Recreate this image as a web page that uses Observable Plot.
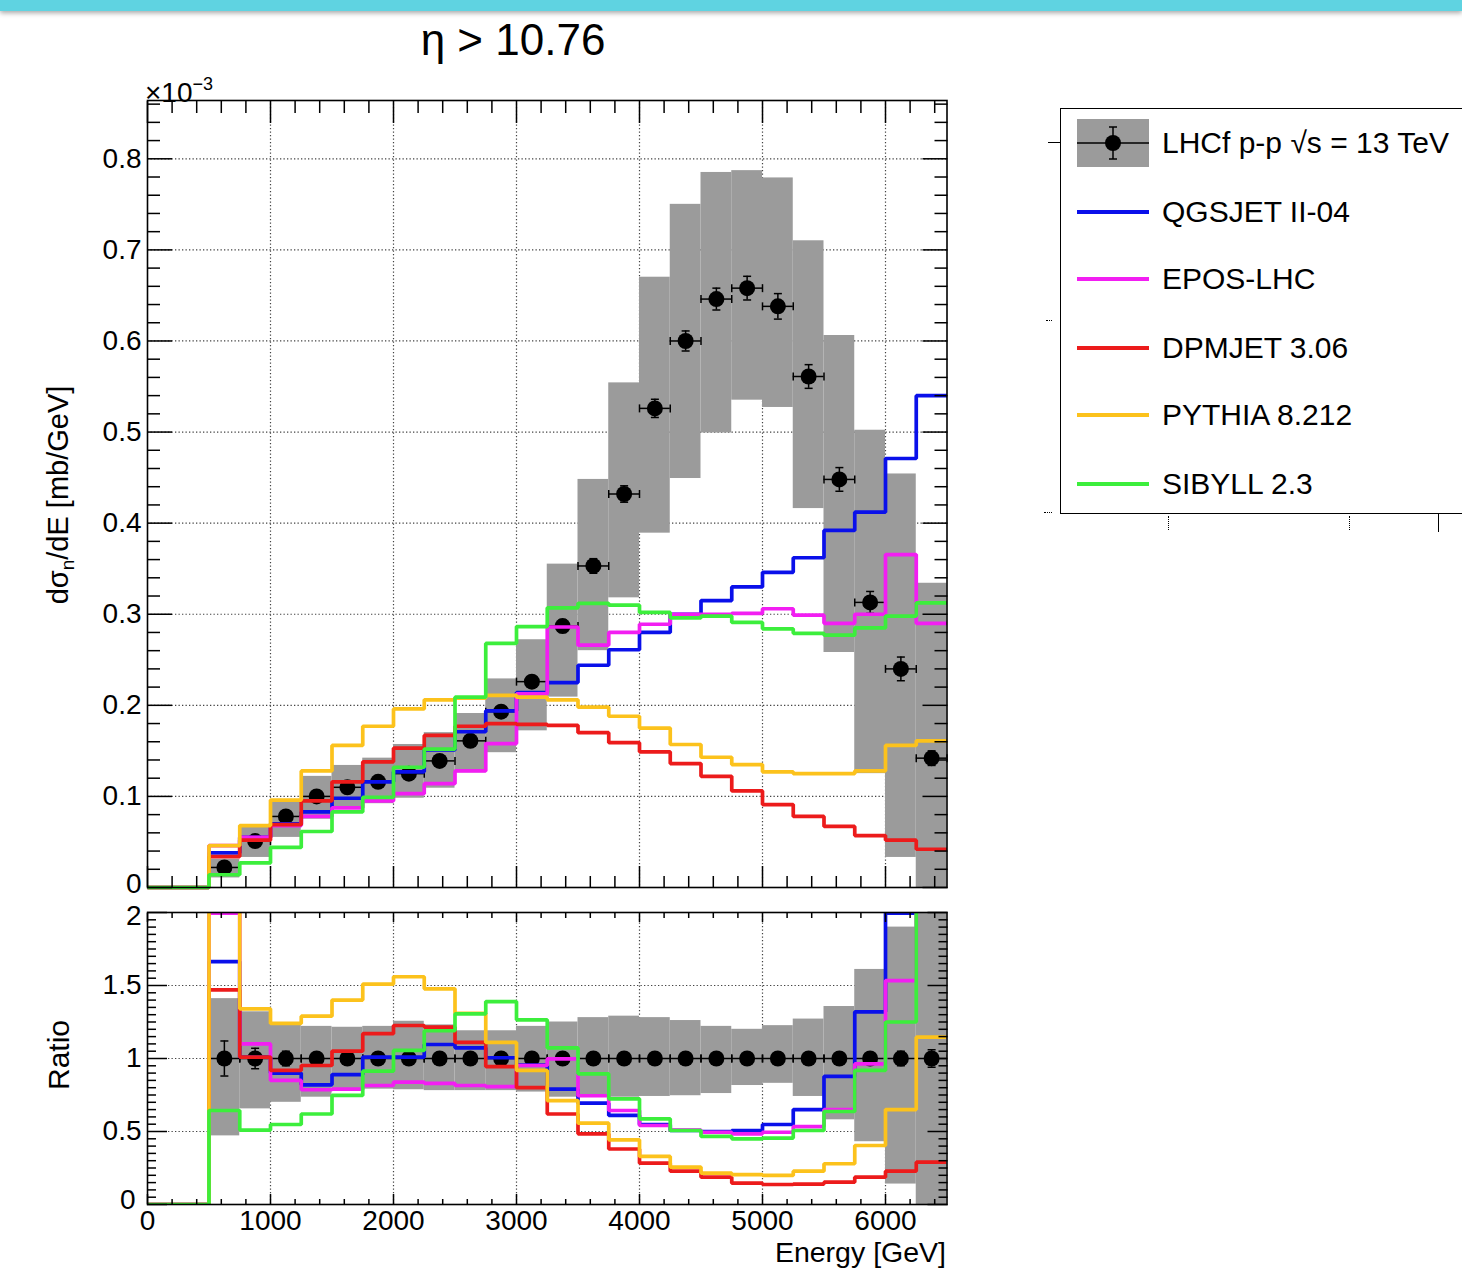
<!DOCTYPE html>
<html>
<head>
<meta charset="utf-8">
<script src="https://cdn.jsdelivr.net/npm/d3@7"></script>
<script src="https://cdn.jsdelivr.net/npm/@observablehq/plot@0.6"></script>
<style>
  html, body { margin: 0; padding: 0; background: #fff; }
  body { width: 1462px; height: 1272px; overflow: hidden; position: relative;
         font-family: "Liberation Sans", Arial, Helvetica, sans-serif; color: #000; }
  #topbar { position: absolute; left: 0; top: 0; width: 1462px; height: 11px; background: #5fd3e1;
            box-shadow: 0 2px 5px rgba(0,0,0,0.35); z-index: 5; }
  .abs { position: absolute; white-space: nowrap; line-height: 1; }
  #title { left: 513px; top: 18px; font-size: 44px; transform: translateX(-50%); }
  #exp { left: 145px; top: 75px; font-size: 28px; }
  #exp sup { font-size: 18px; vertical-align: 12px; }
  #ylab { left: 60px; top: 495px; font-size: 29px; transform: translate(-50%, -50%) rotate(-90deg); }
  #ylab sub { font-size: 19px; vertical-align: -6px; }
  #rlab { left: 59px; top: 1055px; font-size: 30px; transform: translate(-50%, -50%) rotate(-90deg); }
  #xlab { right: 516px; top: 1238px; font-size: 28.5px; }
  #topchart { position: absolute; left: 0; top: 60px; }
  #botchart { position: absolute; left: 0; top: 872px; }
  #legend { position: absolute; left: 1060px; top: 108px; width: 520px; height: 404px;
            border: 1.5px solid #000; background: #fff; }
  .row { position: absolute; left: 0; height: 48px; width: 500px; }
  .row svg { position: absolute; left: 16px; top: 0; }
  .row span { position: absolute; left: 101px; top: 9px; font-size: 30px; line-height: 1; white-space: nowrap; }
  .frag { position: absolute; }
</style>
</head>
<body>
<div id="topbar"></div>
<div id="title" class="abs">η &gt; 10.76</div>
<div id="exp" class="abs">×10<sup>−3</sup></div>
<div id="ylab" class="abs">dσ<sub>n</sub>/dE [mb/GeV]</div>
<div id="rlab" class="abs">Ratio</div>
<div id="xlab" class="abs">Energy [GeV]</div>
<div id="topchart"></div>
<div id="botchart"></div>

<!-- fragments of the neighbouring pad peeking out around the legend -->
<div class="frag" style="left:1048px;top:142px;width:12px;height:0;border-top:1.5px solid #000"></div>
<div class="frag" style="left:1046px;top:320px;width:6px;height:0;border-top:1.5px dotted #000"></div>
<div class="frag" style="left:1044px;top:512px;width:8px;height:0;border-top:1.5px dotted #000"></div>
<div class="frag" style="left:1168px;top:516px;width:0;height:14px;border-left:1.5px dotted #000"></div>
<div class="frag" style="left:1349px;top:516px;width:0;height:14px;border-left:1.5px dotted #000"></div>
<div class="frag" style="left:1438px;top:514px;width:0;height:18px;border-left:1.5px solid #000"></div>

<div id="legend"></div>

<script>
// ---------------- data ----------------
const binEdges = [0,250,500,750,1000,1250,1500,1750,2000,2250,2500,2750,3000,3250,3500,3750,4000,4250,4500,4750,5000,5250,5500,5750,6000,6250,6500];

// LHCf data, dσ/dE in units of 1e-3 mb/GeV (one value per bin, first two bins empty)
const dataValue   = [null,null,0.022,0.051,0.078,0.100,0.110,0.116,0.125,0.139,0.161,0.193,0.226,0.287,0.353,0.432,0.526,0.600,0.646,0.658,0.638,0.561,0.448,0.313,0.240,0.142];
const dataStat    = [null,null,0.003,0.003,0.003,0.003,0.003,0.003,0.003,0.004,0.004,0.005,0.006,0.007,0.008,0.009,0.010,0.011,0.012,0.013,0.014,0.013,0.013,0.012,0.013,0.008];
const dataSysLow  = [null,null,0.0105,0.033,0.055,0.075,0.086,0.092,0.098,0.109,0.126,0.148,0.172,0.209,0.260,0.318,0.389,0.449,0.499,0.535,0.527,0.416,0.258,0.125,0.033,0.0];
const dataSysHigh = [null,null,0.031,0.066,0.095,0.122,0.134,0.142,0.157,0.170,0.191,0.229,0.272,0.355,0.448,0.554,0.670,0.750,0.785,0.787,0.779,0.710,0.606,0.502,0.454,0.334];

// model predictions (same units)
const qgsjet = [0,0,0.038,0.055,0.070,0.083,0.098,0.116,0.127,0.151,0.171,0.194,0.214,0.225,0.244,0.261,0.280,0.300,0.315,0.330,0.346,0.362,0.392,0.412,0.471,0.540];
const epos   = [0,0,0.046,0.055,0.068,0.078,0.0875,0.095,0.103,0.114,0.128,0.158,0.2125,0.286,0.266,0.280,0.289,0.300,0.300,0.301,0.306,0.299,0.290,0.300,0.3655,0.290];
const dpmjet = [0,0,0.034,0.052,0.069,0.095,0.116,0.138,0.153,0.167,0.177,0.180,0.179,0.178,0.170,0.159,0.149,0.136,0.122,0.106,0.091,0.078,0.067,0.057,0.052,0.042];
const pythia = [0,0,0.046,0.068,0.096,0.128,0.156,0.177,0.196,0.206,0.208,0.211,0.209,0.206,0.198,0.188,0.175,0.157,0.143,0.135,0.127,0.125,0.125,0.128,0.156,0.161];
const sibyll = [0,0,0.014,0.027,0.044,0.0615,0.083,0.099,0.132,0.152,0.209,0.268,0.2865,0.307,0.312,0.310,0.302,0.296,0.298,0.291,0.284,0.279,0.277,0.285,0.298,0.3125];

// ratio panel (MC / data)
const ratioData    = [null,null,1,1,1,1,1,1,1,1,1,1,1,1,1,1,1,1,1,1,1,1,1,1,1,1];
const ratioStat    = [null,null,0.12,0.07,0.05,0.04,0.03,0.03,0.03,0.03,0.03,0.03,0.03,0.03,0.03,0.025,0.02,0.02,0.02,0.02,0.02,0.025,0.03,0.04,0.05,0.06];
const ratioSysLow  = [null,null,0.47,0.655,0.70,0.735,0.78,0.79,0.786,0.78,0.78,0.78,0.77,0.735,0.735,0.735,0.74,0.745,0.76,0.815,0.83,0.74,0.58,0.43,0.14,0.0];
const ratioSysHigh = [null,null,1.41,1.32,1.24,1.22,1.214,1.22,1.255,1.23,1.19,1.19,1.22,1.25,1.28,1.29,1.28,1.26,1.22,1.20,1.225,1.27,1.356,1.61,1.90,2.35];
const ratioQgsjet = [0,0,1.664,1.01,0.90,0.82,0.89,1.01,1.01,1.096,1.073,1.005,0.955,0.79,0.694,0.61,0.548,0.507,0.50,0.507,0.548,0.65,0.877,1.32,1.995,2.2];
const ratioEpos   = [0,0,1.995,1.10,0.85,0.786,0.79,0.815,0.838,0.83,0.815,0.808,0.952,0.998,0.745,0.644,0.541,0.51,0.495,0.484,0.495,0.534,0.65,0.963,1.534,2.05];
const ratioDpmjet = [0,0,1.47,1.01,0.918,0.952,1.05,1.17,1.226,1.215,1.11,0.945,0.80,0.62,0.484,0.38,0.283,0.228,0.187,0.146,0.137,0.14,0.153,0.187,0.228,0.29];
const ratioPythia = [0,0,2.05,1.34,1.24,1.29,1.40,1.51,1.56,1.477,1.31,1.11,0.918,0.712,0.557,0.443,0.329,0.256,0.215,0.205,0.199,0.228,0.279,0.404,0.65,1.146];
const ratioSibyll = [0,0,0.644,0.51,0.548,0.62,0.747,0.913,1.055,1.19,1.306,1.39,1.265,1.073,0.895,0.724,0.587,0.507,0.466,0.45,0.455,0.507,0.637,0.918,1.25,2.2];

const modelNames  = ["QGSJET II-04","EPOS-LHC","DPMJET 3.06","PYTHIA 8.212","SIBYLL 2.3"];
const modelColors = ["#0a10ea","#f21ef2","#ec1b1b","#fcc21c","#3cee3c"];
const dataLabel = "LHCf p-p √s = 13 TeV";

// tick values
const xMajor = [0,1000,2000,3000,4000,5000,6000];
const xMinor = d3.range(0, 6500, 200).filter(d => d % 1000 !== 0);
const yMajorTop = [0,0.1,0.2,0.3,0.4,0.5,0.6,0.7,0.8];
const yMinorTop = d3.range(1, 44).map(i => +(i*0.02).toFixed(2)).filter(d => Math.round(d*100) % 10 !== 0);
const yMajorR = [0,0.5,1,1.5,2];
const yMinorR = d3.range(1, 40).map(i => +(i*0.05).toFixed(2)).filter(d => Math.round(d*100) % 50 !== 0);

// ---------------- build tables ----------------
function dataRows(vals, stat, lo, hi) {
  const rows = [];
  vals.forEach((v, i) => {
    if (v == null) return;
    rows.push({x1: binEdges[i], x2: binEdges[i+1], xm: (binEdges[i]+binEdges[i+1])/2,
               v, e: stat[i], lo: lo[i], hi: hi[i]});
  });
  return rows;
}
function stepRows(vals, name) {
  return binEdges.map((e, i) => ({x: e, y: vals[Math.min(i, vals.length-1)], model: name}));
}
const topData = dataRows(dataValue, dataStat, dataSysLow, dataSysHigh);
const botData = dataRows(ratioData, ratioStat, ratioSysLow, ratioSysHigh);
const topModels = [qgsjet, epos, dpmjet, pythia, sibyll];
const botModels = [ratioQgsjet, ratioEpos, ratioDpmjet, ratioPythia, ratioSibyll];

const hCap = {draw(ctx, size){ const r = Math.sqrt(size/Math.PI); ctx.moveTo(-r,0); ctx.lineTo(r,0); }};
const vCap = {draw(ctx, size){ const r = Math.sqrt(size/Math.PI); ctx.moveTo(0,-r); ctx.lineTo(0,r); }};

const FONT = "Liberation Sans, Arial, Helvetica, sans-serif";
const gridStyle = {stroke: "#222", strokeOpacity: 0.85, strokeWidth: 1.2, strokeDasharray: "1.3,2.2"};
const GRAY = "#9b9b9b";

function dataMarks(rows, clip) {
  return [
    Plot.rect(rows, {x1: "x1", x2: "x2", y1: "lo", y2: "hi", fill: GRAY, clip}),
    Plot.ruleY(rows, {y: "v", x1: "x1", x2: "x2", stroke: "#000", strokeWidth: 1.5, clip}),
    Plot.ruleX(rows, {x: "xm", y1: d => d.v - d.e, y2: d => d.v + d.e, stroke: "#000", strokeWidth: 1.5, clip}),
    Plot.dot(rows, {x: "x1", y: "v", symbol: vCap, r: 4, stroke: "#000", strokeWidth: 1.5, clip}),
    Plot.dot(rows, {x: "x2", y: "v", symbol: vCap, r: 4, stroke: "#000", strokeWidth: 1.5, clip}),
    Plot.dot(rows, {x: "xm", y: d => d.v + d.e, symbol: hCap, r: 4, stroke: "#000", strokeWidth: 1.5, clip}),
    Plot.dot(rows, {x: "xm", y: d => d.v - d.e, symbol: hCap, r: 4, stroke: "#000", strokeWidth: 1.5, clip}),
    Plot.dot(rows, {x: "xm", y: "v", r: 8, fill: "#000", stroke: "none", clip})
  ];
}
function modelMarks(models, clip) {
  return models.map((vals, k) =>
    Plot.line(stepRows(vals, modelNames[k]), {x: "x", y: "y", curve: "step-after",
      stroke: modelColors[k], strokeWidth: 3.7, strokeLinejoin: "miter", strokeLinecap: "butt", clip}));
}

// ---------------- top panel ----------------
const topPlot = Plot.plot({
  width: 1000, height: 837,
  marginLeft: 147, marginRight: 53.5, marginTop: 40, marginBottom: 10,
  style: {background: "transparent", fontFamily: FONT, color: "#000", overflow: "visible"},
  x: {domain: [0, 6500], axis: null},
  y: {domain: [0, 0.864], axis: null},
  marks: [
    Plot.gridX(xMajor.filter(d => d > 0), gridStyle),
    Plot.gridY(yMajorTop.filter(d => d > 0), gridStyle),
    ...dataMarks(topData, false),
    ...modelMarks(topModels, false),
    // tick marks (inside the frame)
    Plot.axisX(xMajor, {anchor: "bottom", tickSize: -21, strokeWidth: 1.5, fill: "none", label: null}),
    Plot.axisX(xMinor, {anchor: "bottom", tickSize: -11, strokeWidth: 1.5, fill: "none", label: null}),
    Plot.axisX(xMajor, {anchor: "top", tickSize: -22, strokeWidth: 1.5, fill: "none", label: null}),
    Plot.axisX(xMinor, {anchor: "top", tickSize: -12, strokeWidth: 1.5, fill: "none", label: null}),
    Plot.axisY(yMajorTop, {anchor: "left", tickSize: -25, strokeWidth: 1.5, fill: "none", label: null}),
    Plot.axisY(yMinorTop, {anchor: "left", tickSize: -13, strokeWidth: 1.5, fill: "none", label: null}),
    Plot.axisY(yMajorTop, {anchor: "right", tickSize: -25, strokeWidth: 1.5, fill: "none", label: null}),
    Plot.axisY(yMinorTop, {anchor: "right", tickSize: -13, strokeWidth: 1.5, fill: "none", label: null}),
    // labels
    Plot.axisY(yMajorTop.filter(d => d > 0), {anchor: "left", tickSize: 0, tickPadding: 6, fontSize: 28, label: null,
      tickFormat: d => d.toFixed(1)}),
    Plot.axisY([0], {anchor: "left", tickSize: 0, tickPadding: 6, fontSize: 28, label: null, dy: -3,
      tickFormat: d => "0"}),
    Plot.frame({stroke: "#000", strokeWidth: 1.6})
  ]
});
document.getElementById("topchart").append(topPlot);

// ---------------- ratio panel ----------------
const botPlot = Plot.plot({
  width: 1000, height: 377,
  marginLeft: 147, marginRight: 53.5, marginTop: 40, marginBottom: 45,
  style: {background: "transparent", fontFamily: FONT, color: "#000", overflow: "visible"},
  x: {domain: [0, 6500], axis: null},
  y: {domain: [0, 2], axis: null},
  marks: [
    Plot.gridX(xMajor.filter(d => d > 0), gridStyle),
    Plot.gridY([0.5, 1, 1.5], gridStyle),
    ...dataMarks(botData, true),
    ...modelMarks(botModels, true),
    Plot.axisX(xMajor, {anchor: "bottom", tickSize: -10, strokeWidth: 1.5, fill: "none", label: null}),
    Plot.axisX(xMinor, {anchor: "bottom", tickSize: -5, strokeWidth: 1.5, fill: "none", label: null}),
    Plot.axisX(xMajor, {anchor: "top", tickSize: -9, strokeWidth: 1.5, fill: "none", label: null}),
    Plot.axisX(xMinor, {anchor: "top", tickSize: -5, strokeWidth: 1.5, fill: "none", label: null}),
    Plot.axisY(yMajorR, {anchor: "left", tickSize: -20, strokeWidth: 1.5, fill: "none", label: null}),
    Plot.axisY(yMinorR, {anchor: "left", tickSize: -9, strokeWidth: 1.5, fill: "none", label: null}),
    Plot.axisY(yMajorR, {anchor: "right", tickSize: -20, strokeWidth: 1.5, fill: "none", label: null}),
    Plot.axisY(yMinorR, {anchor: "right", tickSize: -9, strokeWidth: 1.5, fill: "none", label: null}),
    Plot.axisY([0.5, 1, 1.5], {anchor: "left", tickSize: 0, tickPadding: 6, fontSize: 28, label: null,
      tickFormat: d => String(d)}),
    Plot.axisY([2], {anchor: "left", tickSize: 0, tickPadding: 6, fontSize: 28, label: null, dy: 4,
      tickFormat: d => String(d)}),
    Plot.axisY([0], {anchor: "left", tickSize: 0, tickPadding: 6, fontSize: 28, label: null, dy: -4, dx: -6,
      tickFormat: d => String(d)}),
    Plot.axisX(xMajor, {anchor: "bottom", tickSize: 0, tickPadding: 6, fontSize: 28, label: null,
      tickFormat: d => String(d)}),
    Plot.frame({stroke: "#000", strokeWidth: 1.6})
  ]
});
document.getElementById("botchart").append(botPlot);

// ---------------- legend ----------------
const legend = document.getElementById("legend");
const rowCenters = [34, 103, 170, 239, 306, 375]; // relative to legend box
function addRow(i, svgInner, label) {
  const row = document.createElement("div");
  row.className = "row";
  row.style.top = (rowCenters[i] - 24) + "px";
  row.innerHTML = `<svg width="72" height="48" viewBox="0 0 72 48">${svgInner}</svg><span>${label}</span>`;
  legend.append(row);
}
addRow(0,
  `<rect x="0" y="0" width="72" height="48" fill="${GRAY}"/>
   <line x1="0" y1="24" x2="72" y2="24" stroke="#000" stroke-width="1.5"/>
   <line x1="36" y1="8" x2="36" y2="40" stroke="#000" stroke-width="1.5"/>
   <line x1="32" y1="8" x2="40" y2="8" stroke="#000" stroke-width="1.5"/>
   <line x1="32" y1="40" x2="40" y2="40" stroke="#000" stroke-width="1.5"/>
   <circle cx="36" cy="24" r="8" fill="#000"/>`, dataLabel);
modelNames.forEach((name, k) => {
  addRow(k + 1, `<line x1="0" y1="24" x2="72" y2="24" stroke="${modelColors[k]}" stroke-width="4"/>`, name);
});
</script>
</body>
</html>
